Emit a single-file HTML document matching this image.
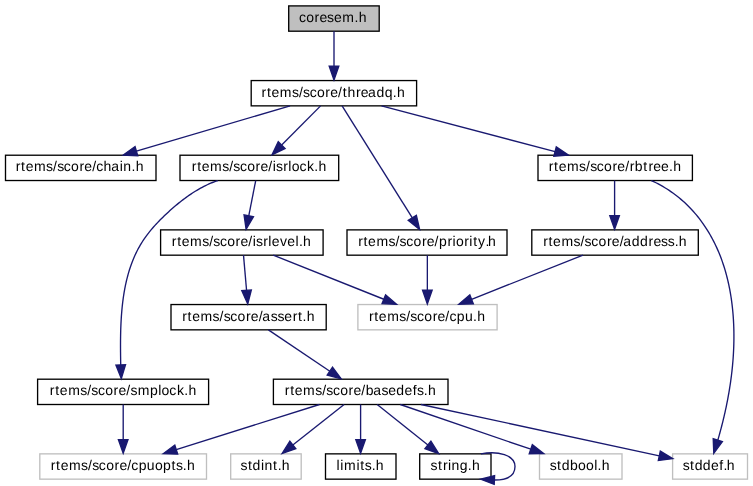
<!DOCTYPE html><html><head><meta charset="utf-8"><style>html,body{margin:0;padding:0;background:#fff;width:753px;height:486px;overflow:hidden}svg{display:block}text{font-family:"Liberation Sans",sans-serif;text-rendering:geometricPrecision}svg{will-change:transform}</style></head><body>
<svg width="753" height="486" viewBox="0 0 753 486">
<rect x="0" y="0" width="753" height="486" fill="#fff"/>
<rect x="288.70" y="5.90" width="90.50" height="25.30" fill="#bfbfbf" stroke="#000000" stroke-width="1.33"/>
<text x="298.95 306.21 314.61 319.49 327.02 333.90 342.24 354.44 358.67" y="22.05" font-size="14.0" fill="#000">coresem.h</text>
<rect x="251.20" y="80.56" width="165.40" height="25.30" fill="#ffffff" stroke="#000000" stroke-width="1.33"/>
<text x="261.55 266.89 271.51 279.85 291.91 298.93 303.01 309.68 316.95 325.34 330.22 338.03 342.70 347.43 355.95 360.83 367.98 376.45 384.66 392.83 397.06" y="96.71" font-size="14.0" fill="#000">rtems/score/threadq.h</text>
<rect x="5.50" y="155.22" width="150.50" height="25.30" fill="#ffffff" stroke="#000000" stroke-width="1.33"/>
<text x="15.69 21.03 25.65 33.99 46.05 53.07 57.15 63.82 71.09 79.48 84.36 92.17 96.19 103.61 111.17 119.76 123.34 131.39 135.63" y="171.37" font-size="14.0" fill="#000">rtems/score/chain.h</text>
<rect x="180.00" y="155.22" width="158.70" height="25.30" fill="#ffffff" stroke="#000000" stroke-width="1.33"/>
<text x="191.80 197.14 201.76 210.10 222.17 229.18 233.26 239.94 247.20 255.59 260.48 268.28 272.65 275.95 283.26 288.29 291.69 299.45 306.98 314.24 318.47" y="171.37" font-size="14.0" fill="#000">rtems/score/isrlock.h</text>
<rect x="538.00" y="155.22" width="154.40" height="25.30" fill="#ffffff" stroke="#000000" stroke-width="1.33"/>
<text x="548.68 554.02 558.63 566.97 579.04 586.05 590.13 596.81 604.07 612.47 617.35 625.15 629.81 634.86 643.35 648.40 653.29 660.96 668.90 673.13" y="171.37" font-size="14.0" fill="#000">rtems/score/rbtree.h</text>
<rect x="160.60" y="229.88" width="162.50" height="25.30" fill="#ffffff" stroke="#000000" stroke-width="1.33"/>
<text x="171.80 177.14 181.76 190.10 202.16 209.18 213.26 219.93 227.20 235.59 240.47 248.28 252.65 255.95 263.26 268.29 271.74 279.92 287.35 295.45 298.88 303.11" y="246.03" font-size="14.0" fill="#000">rtems/score/isrlevel.h</text>
<rect x="347.00" y="229.88" width="160.00" height="25.30" fill="#ffffff" stroke="#000000" stroke-width="1.33"/>
<text x="358.14 363.48 368.10 376.44 388.51 395.52 399.60 406.28 413.54 421.93 426.82 434.62 439.01 447.48 452.51 455.91 464.30 469.33 473.23 478.07 485.49 487.88" y="246.03" font-size="14.0" fill="#000">rtems/score/priority.h</text>
<rect x="531.80" y="229.88" width="166.50" height="25.30" fill="#ffffff" stroke="#000000" stroke-width="1.33"/>
<text x="543.15 548.49 553.11 561.45 573.52 580.53 584.61 591.29 598.55 606.94 611.83 619.63 623.33 631.80 640.01 648.62 653.51 661.04 667.77 674.64 678.87" y="246.03" font-size="14.0" fill="#000">rtems/score/address.h</text>
<rect x="171.00" y="304.54" width="155.20" height="25.30" fill="#ffffff" stroke="#000000" stroke-width="1.33"/>
<text x="182.18 187.52 192.14 200.48 212.54 219.56 223.64 230.31 237.58 245.97 250.85 258.66 262.36 270.66 277.40 284.28 292.66 298.00 302.60 306.84" y="320.69" font-size="14.0" fill="#000">rtems/score/assert.h</text>
<rect x="357.90" y="304.54" width="139.20" height="25.30" fill="#ffffff" stroke="#bfbfbf" stroke-width="1.33"/>
<text x="368.90 374.23 378.85 387.19 399.26 406.27 410.35 417.03 424.29 432.68 437.57 445.37 449.39 456.87 464.98 473.09 477.33" y="320.69" font-size="14.0" fill="#000">rtems/score/cpu.h</text>
<rect x="37.60" y="379.20" width="171.00" height="25.30" fill="#ffffff" stroke="#000000" stroke-width="1.33"/>
<text x="49.83 55.17 59.79 68.13 80.19 87.21 91.29 97.96 105.23 113.62 118.50 126.31 130.39 137.65 150.03 158.22 161.61 169.37 176.90 184.16 188.39" y="395.35" font-size="14.0" fill="#000">rtems/score/smplock.h</text>
<rect x="273.40" y="379.20" width="174.60" height="25.30" fill="#ffffff" stroke="#000000" stroke-width="1.33"/>
<text x="284.80 290.14 294.76 303.10 315.17 322.18 326.26 332.94 340.20 348.59 353.48 361.28 365.67 373.19 381.49 388.37 396.35 404.53 412.85 416.90 423.76 428.00" y="395.35" font-size="14.0" fill="#000">rtems/score/basedefs.h</text>
<rect x="39.80" y="453.86" width="166.70" height="25.30" fill="#ffffff" stroke="#bfbfbf" stroke-width="1.33"/>
<text x="50.73 56.07 60.69 69.03 81.09 88.11 92.19 98.86 106.13 114.52 119.40 127.21 131.23 138.70 146.81 154.89 163.02 171.51 175.99 182.85 187.09" y="470.01" font-size="14.0" fill="#000">rtems/score/cpuopts.h</text>
<rect x="230.70" y="453.86" width="70.50" height="25.30" fill="#ffffff" stroke="#bfbfbf" stroke-width="1.33"/>
<text x="240.62 247.96 252.60 260.93 264.50 273.02 277.63 281.86" y="470.01" font-size="14.0" fill="#000">stdint.h</text>
<rect x="325.50" y="453.86" width="70.50" height="25.30" fill="#ffffff" stroke="#000000" stroke-width="1.33"/>
<text x="336.61 340.20 344.03 356.39 360.29 364.77 371.63 375.87" y="470.01" font-size="14.0" fill="#000">limits.h</text>
<rect x="419.70" y="453.86" width="71.30" height="25.30" fill="#ffffff" stroke="#000000" stroke-width="1.33"/>
<text x="430.56 437.89 442.94 447.97 451.55 459.64 467.81 472.04" y="470.01" font-size="14.0" fill="#000">string.h</text>
<rect x="539.50" y="453.86" width="82.50" height="25.30" fill="#ffffff" stroke="#bfbfbf" stroke-width="1.33"/>
<text x="549.79 557.12 561.77 570.11 578.11 586.02 594.13 597.56 601.79" y="470.01" font-size="14.0" fill="#000">stdbool.h</text>
<rect x="672.60" y="453.86" width="74.90" height="25.30" fill="#ffffff" stroke="#bfbfbf" stroke-width="1.33"/>
<text x="682.67 690.00 694.65 702.85 711.04 719.36 723.53 726.82" y="470.01" font-size="14.0" fill="#000">stddef.h</text>
<path d="M334.00,31.20 L334.00,66.26" fill="none" stroke="#191970" stroke-width="1.35"/>
<polygon points="334.00,79.96 329.20,66.26 338.80,66.26" fill="#191970" stroke="#191970" stroke-width="1.35"/>
<path d="M290.10,105.86 L136.42,151.18" fill="none" stroke="#191970" stroke-width="1.35"/>
<polygon points="123.28,155.05 135.06,146.57 137.77,155.78" fill="#191970" stroke="#191970" stroke-width="1.35"/>
<path d="M320.60,105.86 L281.67,145.07" fill="none" stroke="#191970" stroke-width="1.35"/>
<polygon points="272.02,154.79 278.27,141.69 285.08,148.45" fill="#191970" stroke="#191970" stroke-width="1.35"/>
<path d="M342.10,105.86 L412.30,217.77" fill="none" stroke="#191970" stroke-width="1.35"/>
<polygon points="419.58,229.37 408.23,220.32 416.37,215.22" fill="#191970" stroke="#191970" stroke-width="1.35"/>
<path d="M381.50,105.86 L555.07,151.58" fill="none" stroke="#191970" stroke-width="1.35"/>
<polygon points="568.32,155.07 553.85,156.22 556.29,146.94" fill="#191970" stroke="#191970" stroke-width="1.35"/>
<path d="M255.70,180.52 L248.76,215.85" fill="none" stroke="#191970" stroke-width="1.35"/>
<polygon points="246.12,229.29 244.05,214.92 253.47,216.77" fill="#191970" stroke="#191970" stroke-width="1.35"/>
<path d="M217.80,180.52 L216.01,181.15 L214.23,181.81 L212.47,182.50 L210.73,183.22 L209.00,183.97 L207.28,184.76 L205.58,185.57 L203.90,186.41 L202.22,187.28 L200.57,188.18 L198.92,189.10 L197.29,190.05 L195.67,191.02 L194.06,192.02 L192.47,193.04 L190.89,194.09 L189.32,195.15 L187.76,196.24 L186.22,197.34 L184.68,198.47 L183.16,199.61 L181.65,200.77 L180.15,201.95 L178.66,203.14 L177.18,204.36 L175.72,205.58 L174.26,206.82 L172.81,208.07 L171.37,209.34 L169.94,210.61 L168.52,211.90 L167.11,213.20 L165.71,214.51 L164.32,215.83 L162.95,217.16 L161.58,218.50 L160.23,219.85 L158.90,221.22 L157.58,222.60 L156.27,223.99 L154.99,225.39 L153.72,226.80 L152.48,228.23 L151.25,229.68 L150.05,231.13 L148.87,232.60 L147.71,234.09 L146.58,235.59 L145.48,237.11 L144.40,238.64 L143.35,240.18 L142.33,241.75 L141.34,243.33 L140.38,244.92 L139.45,246.54 L138.54,248.16 L137.67,249.80 L136.82,251.46 L136.00,253.13 L135.21,254.82 L134.45,256.52 L133.71,258.23 L132.99,259.95 L132.31,261.69 L131.64,263.44 L131.01,265.19 L130.39,266.97 L129.80,268.75 L129.23,270.54 L128.69,272.34 L128.17,274.15 L127.67,275.97 L127.19,277.80 L126.73,279.64 L126.29,281.49 L125.88,283.34 L125.48,285.20 L125.10,287.07 L124.74,288.95 L124.40,290.83 L124.08,292.72 L123.77,294.61 L123.48,296.50 L123.21,298.41 L122.95,300.31 L122.71,302.22 L122.49,304.14 L122.28,306.05 L122.08,307.97 L121.90,309.89 L121.73,311.82 L121.58,313.74 L121.43,315.67 L121.30,317.60 L121.19,319.52 L121.08,321.45 L120.98,323.38 L120.90,325.30 L120.82,327.23 L120.75,329.15 L120.70,331.08 L120.65,333.00 L120.61,334.91 L120.58,336.83 L120.55,338.74 L120.53,340.64 L120.52,342.55 L120.51,344.44 L120.51,346.34 L120.52,348.23 L120.53,350.11 L120.54,351.98 L120.56,353.85 L120.58,355.72 L120.61,357.57 L120.63,359.42 L120.66,361.26 L120.69,363.09 L120.73,364.91" fill="none" stroke="#191970" stroke-width="1.35" stroke-linejoin="round"/>
<polygon points="121.28,378.60 115.93,365.10 125.52,364.72" fill="#191970" stroke="#191970" stroke-width="1.35"/>
<path d="M614.60,180.52 L614.60,215.58" fill="none" stroke="#191970" stroke-width="1.35"/>
<polygon points="614.60,229.28 609.80,215.58 619.40,215.58" fill="#191970" stroke="#191970" stroke-width="1.35"/>
<path d="M651.30,180.52 L653.66,181.62 L655.99,182.76 L658.28,183.94 L660.53,185.16 L662.74,186.42 L664.91,187.71 L667.05,189.04 L669.16,190.41 L671.22,191.82 L673.25,193.26 L675.24,194.73 L677.20,196.24 L679.12,197.79 L681.00,199.36 L682.85,200.97 L684.66,202.61 L686.43,204.29 L688.17,205.99 L689.88,207.72 L691.55,209.48 L693.18,211.27 L694.78,213.09 L696.35,214.93 L697.87,216.80 L699.37,218.70 L700.83,220.62 L702.25,222.57 L703.65,224.54 L705.00,226.54 L706.32,228.55 L707.61,230.59 L708.87,232.66 L710.09,234.74 L711.28,236.84 L712.43,238.97 L713.55,241.11 L714.64,243.27 L715.70,245.45 L716.72,247.64 L717.71,249.86 L718.66,252.08 L719.59,254.33 L720.48,256.59 L721.34,258.86 L722.16,261.14 L722.96,263.44 L723.72,265.76 L724.46,268.08 L725.16,270.42 L725.83,272.76 L726.48,275.12 L727.09,277.49 L727.68,279.87 L728.23,282.26 L728.76,284.66 L729.26,287.06 L729.73,289.47 L730.18,291.89 L730.60,294.32 L730.99,296.76 L731.35,299.20 L731.69,301.64 L732.01,304.09 L732.30,306.55 L732.56,309.01 L732.80,311.47 L733.02,313.94 L733.21,316.40 L733.38,318.87 L733.52,321.35 L733.64,323.82 L733.74,326.30 L733.82,328.77 L733.88,331.25 L733.91,333.73 L733.92,336.20 L733.91,338.68 L733.88,341.16 L733.83,343.64 L733.76,346.11 L733.67,348.59 L733.56,351.06 L733.43,353.54 L733.28,356.01 L733.11,358.48 L732.92,360.95 L732.71,363.42 L732.49,365.89 L732.24,368.35 L731.98,370.81 L731.70,373.27 L731.41,375.73 L731.09,378.18 L730.76,380.63 L730.42,383.07 L730.05,385.51 L729.67,387.95 L729.28,390.39 L728.87,392.82 L728.44,395.24 L728.00,397.66 L727.55,400.08 L727.08,402.49 L726.59,404.89 L726.10,407.29 L725.58,409.69 L725.06,412.07 L724.52,414.45 L723.97,416.83 L723.40,419.20 L722.83,421.56 L722.24,423.92 L721.64,426.26 L721.03,428.60 L720.40,430.94 L719.77,433.26 L719.12,435.58 L718.47,437.89 L717.80,440.19" fill="none" stroke="#191970" stroke-width="1.35" stroke-linejoin="round"/>
<polygon points="713.78,453.29 713.21,438.78 722.39,441.60" fill="#191970" stroke="#191970" stroke-width="1.35"/>
<path d="M243.50,255.18 L246.56,290.29" fill="none" stroke="#191970" stroke-width="1.35"/>
<polygon points="247.75,303.94 241.78,290.71 251.34,289.88" fill="#191970" stroke="#191970" stroke-width="1.35"/>
<path d="M273.20,255.18 L383.82,299.25" fill="none" stroke="#191970" stroke-width="1.35"/>
<polygon points="396.54,304.32 382.04,303.71 385.59,294.79" fill="#191970" stroke="#191970" stroke-width="1.35"/>
<path d="M427.35,255.18 L427.35,290.24" fill="none" stroke="#191970" stroke-width="1.35"/>
<polygon points="427.35,303.94 422.55,290.24 432.15,290.24" fill="#191970" stroke="#191970" stroke-width="1.35"/>
<path d="M583.00,255.18 L471.60,299.28" fill="none" stroke="#191970" stroke-width="1.35"/>
<polygon points="458.86,304.32 469.83,294.81 473.36,303.74" fill="#191970" stroke="#191970" stroke-width="1.35"/>
<path d="M268.40,329.84 L329.84,371.21" fill="none" stroke="#191970" stroke-width="1.35"/>
<polygon points="341.20,378.86 327.16,375.19 332.52,367.23" fill="#191970" stroke="#191970" stroke-width="1.35"/>
<path d="M123.20,404.50 L123.20,439.56" fill="none" stroke="#191970" stroke-width="1.35"/>
<polygon points="123.20,453.26 118.40,439.56 128.00,439.56" fill="#191970" stroke="#191970" stroke-width="1.35"/>
<path d="M319.50,404.50 L176.24,449.57" fill="none" stroke="#191970" stroke-width="1.35"/>
<polygon points="163.17,453.68 174.80,444.99 177.68,454.15" fill="#191970" stroke="#191970" stroke-width="1.35"/>
<path d="M344.10,404.50 L292.82,445.00" fill="none" stroke="#191970" stroke-width="1.35"/>
<polygon points="282.07,453.49 289.85,441.23 295.80,448.76" fill="#191970" stroke="#191970" stroke-width="1.35"/>
<path d="M360.60,404.50 L360.60,439.56" fill="none" stroke="#191970" stroke-width="1.35"/>
<polygon points="360.60,453.26 355.80,439.56 365.40,439.56" fill="#191970" stroke="#191970" stroke-width="1.35"/>
<path d="M377.20,404.50 L427.92,444.94" fill="none" stroke="#191970" stroke-width="1.35"/>
<polygon points="438.63,453.49 424.93,448.70 430.91,441.19" fill="#191970" stroke="#191970" stroke-width="1.35"/>
<path d="M400.30,404.50 L530.77,449.22" fill="none" stroke="#191970" stroke-width="1.35"/>
<polygon points="543.73,453.67 529.22,453.76 532.33,444.68" fill="#191970" stroke="#191970" stroke-width="1.35"/>
<path d="M421.00,404.50 L659.32,455.79" fill="none" stroke="#191970" stroke-width="1.35"/>
<polygon points="672.71,458.67 658.31,460.48 660.33,451.10" fill="#191970" stroke="#191970" stroke-width="1.35"/>
<path d="M480.9,453.86 C498,450.5 515,455 515,466.5 C515,477 505,480 494.5,480" fill="none" stroke="#191970" stroke-width="1.35"/>
<polygon points="480.6,479.16 494.6,475.6 494.2,484.4" fill="#191970" stroke="#191970" stroke-width="1.35"/>
</svg></body></html>
